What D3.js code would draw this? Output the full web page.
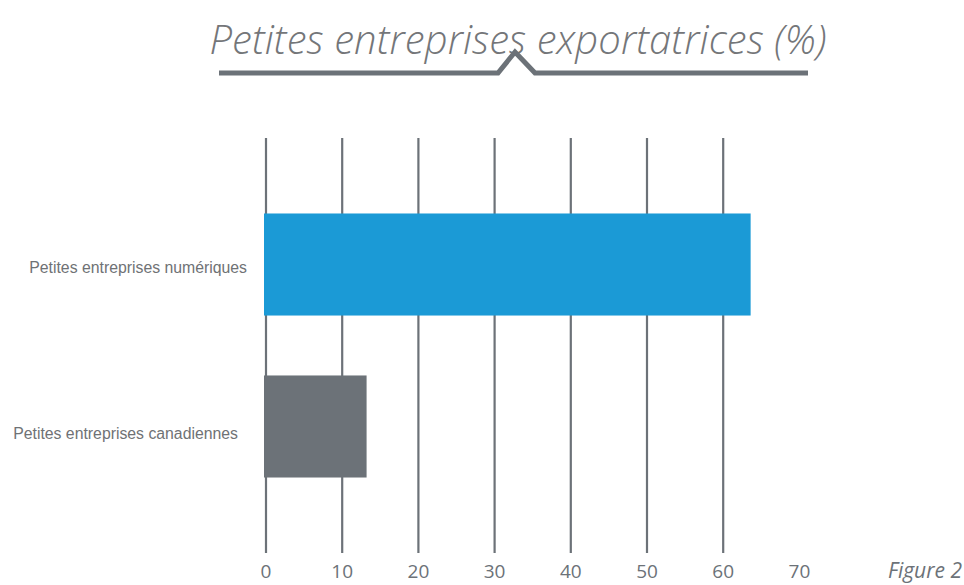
<!DOCTYPE html>
<html>
<head>
<meta charset="utf-8">
<script src="https://cdn.jsdelivr.net/npm/d3@7"></script>
<style>
  body { margin: 0; background: #fff; }
  svg { display: block; }
</style>
</head>
<body>
<svg id="chart" width="964" height="585"></svg>
<script>
// data
let categories = ["Petites entreprises numériques", "Petites entreprises canadiennes"];
let values = [63.6, 13.2];
let tickValues = [0, 10, 20, 30, 40, 50, 60, 70];
let gridValues = [0, 10, 20, 30, 40, 50, 60];
let titleText = "Petites entreprises exportatrices (%)";
let figureText = "Figure 2";

let svg = d3.select("#chart");
let grey = "#6c7278";
let blue = "#1b9ad6";

// scales
let xScale = d3.scaleLinear().domain([0, 70]).range([266, 799.4]);
let yScale = d3.scaleBand().domain(categories).range([138, 553])
  .paddingInner(0.37).paddingOuter(0.466);

// title (light italic, a touch wider than Open Sans light)
svg.append("text")
  .attr("x", 518).attr("y", 54)
  .attr("text-anchor", "middle")
  .attr("font-family", "Open Sans")
  .attr("font-style", "italic")
  .attr("font-weight", 300)
  .attr("font-size", 40)
  .attr("letter-spacing", 0.1)
  .attr("fill", "#747679")
  .text(titleText);

// bracket under the title
svg.append("path")
  .attr("d", "M219,73 L498,73 L515,52 L535,73 L808,73")
  .attr("fill", "none")
  .attr("stroke", grey)
  .attr("stroke-width", 5)
  .attr("stroke-linejoin", "miter");

// grid lines
svg.append("g").selectAll("line")
  .data(gridValues)
  .enter().append("line")
  .attr("x1", d => xScale(d)).attr("x2", d => xScale(d))
  .attr("y1", 138).attr("y2", 553)
  .attr("stroke", grey)
  .attr("stroke-width", 2.2);

// bars
svg.append("g").selectAll("rect")
  .data(values)
  .enter().append("rect")
  .attr("x", xScale(0) - 2)
  .attr("y", (d, i) => yScale(categories[i]))
  .attr("width", d => xScale(d) - xScale(0) + 2)
  .attr("height", yScale.bandwidth())
  .attr("fill", (d, i) => i == 0 ? blue : grey);

// category labels
let labelOffsets = [19, 28];
svg.append("g").selectAll("text")
  .data(categories)
  .enter().append("text")
  .attr("x", (d, i) => xScale(0) - labelOffsets[i])
  .attr("y", (d, i) => yScale(d) + yScale.bandwidth() / 2 + (i == 0 ? 8 : 13))
  .attr("text-anchor", "end")
  .attr("font-family", "Liberation Sans, Arial, sans-serif")
  .attr("font-size", 15.8)
  .attr("fill", "#6f7275")
  .text(d => d);

// tick labels
svg.append("g").selectAll("text")
  .data(tickValues)
  .enter().append("text")
  .attr("x", d => xScale(d))
  .attr("y", 578)
  .attr("text-anchor", "middle")
  .attr("font-family", "Open Sans")
  .attr("font-size", 19)
  .attr("fill", grey)
  .text(d => d);

svg.append("text")
  .attr("x", 962).attr("y", 578)
  .attr("text-anchor", "end")
  .attr("font-family", "Open Sans")
  .attr("font-style", "italic")
  .attr("font-size", 21)
  .attr("fill", grey)
  .text(figureText);
</script>
</body>
</html>
